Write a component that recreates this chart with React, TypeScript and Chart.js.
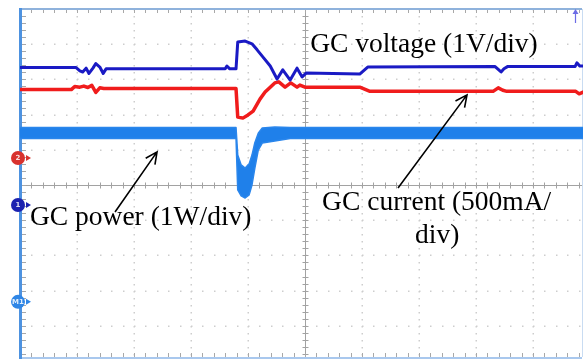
import { useEffect, useRef } from "react";
import { Chart, registerables } from "chart.js";

Chart.register(...registerables);

// Time in divisions (0..10), amplitudes in vertical divisions (-5..5, 0 = screen centre)
const voltageT = [0, 0.98, 1.05, 1.1, 1.16, 1.21, 1.28, 1.33, 1.4, 1.46, 1.51, 3.6, 3.63, 3.68, 3.79, 3.82, 3.95, 4.07, 4.16, 4.26, 4.39, 4.51, 4.61, 4.74, 4.86, 4.95, 5.02, 5.96, 6.1, 8.33, 8.4, 8.44, 8.49, 8.56, 9.74, 9.77, 9.82, 10];
const voltageV = [3.34, 3.34, 3.24, 3.21, 3.32, 3.17, 3.32, 3.45, 3.35, 3.17, 3.3, 3.3, 3.38, 3.3, 3.3, 4.06, 4.09, 4.01, 3.84, 3.64, 3.38, 3.01, 3.27, 2.98, 3.32, 3.07, 3.18, 3.15, 3.35, 3.37, 3.27, 3.21, 3.3, 3.37, 3.37, 3.47, 3.38, 3.38];

const currentT = [0, 0.9, 0.96, 1.05, 1.12, 1.19, 1.26, 1.33, 1.4, 1.47, 3.79, 3.82, 3.91, 4.0, 4.09, 4.16, 4.21, 4.3, 4.39, 4.47, 4.54, 4.65, 4.75, 4.86, 4.91, 5.0, 5.96, 6.14, 8.3, 8.39, 8.47, 8.54, 9.75, 9.81, 9.88, 10];
const currentV = [2.71, 2.71, 2.8, 2.78, 2.81, 2.77, 2.83, 2.63, 2.76, 2.74, 2.74, 1.93, 1.9, 1.99, 2.1, 2.3, 2.44, 2.64, 2.78, 2.9, 2.93, 2.78, 2.9, 2.78, 2.84, 2.78, 2.78, 2.66, 2.66, 2.76, 2.69, 2.66, 2.66, 2.59, 2.64, 2.64];

const powerT = [0, 3.79, 3.82, 3.88, 3.95, 4.02, 4.07, 4.12, 4.18, 4.25, 4.47, 4.74, 10];
const powerHigh = [1.63, 1.63, 0.85, 0.57, 0.48, 0.6, 0.85, 1.2, 1.47, 1.62, 1.65, 1.63, 1.63];
const powerLow = [1.32, 1.32, -0.14, -0.31, -0.37, -0.28, 0, 0.48, 0.99, 1.19, 1.25, 1.32, 1.32];

const labelVoltage = "GC voltage (1V/div)";
const labelPower = "GC power (1W/div)";
const labelCurrent1 = "GC current (500mA/";
const labelCurrent2 = "div)";

const pts = (t: number[], v: number[]) => t.map((x, i) => ({ x, y: v[i] }));

const scopeGrid = {
  id: "scopeGrid",
  beforeDatasetsDraw(chart: any) {
    const { ctx, chartArea, scales } = chart;
    const xs = scales.x;
    const ys = scales.y;
    const { left, top } = chartArea;
    const bottomBorder = 357;
    const rightBorder = 582;
    ctx.save();
    // dotted graticule
    ctx.fillStyle = "#cdcdcd";
    for (let i = 1; i < 10; i++) {
      if (i === 5) continue;
      const px = Math.round(xs.getPixelForValue(i));
      for (let j = 0; j <= 50; j++) {
        const py = Math.round(ys.getPixelForValue(-5 + j * 0.2));
        ctx.fillRect(px - 0.5, py, 1.5, 1.5);
      }
    }
    for (let i = -4; i <= 4; i++) {
      if (i === 0) continue;
      const py = Math.round(ys.getPixelForValue(i));
      for (let j = 0; j <= 50; j++) {
        const px = Math.round(xs.getPixelForValue(j * 0.2));
        ctx.fillRect(px, py - 0.5, 1.5, 1.5);
      }
    }
    // centre cross
    const cx = Math.round(xs.getPixelForValue(5)) + 0.5;
    const cy = Math.round(ys.getPixelForValue(0)) + 0.5;
    ctx.strokeStyle = "#a2a2a2";
    ctx.lineWidth = 1;
    ctx.beginPath();
    ctx.moveTo(cx, top);
    ctx.lineTo(cx, bottomBorder);
    ctx.moveTo(left, cy);
    ctx.lineTo(rightBorder, cy);
    for (let j = 0; j <= 50; j++) {
      const px = Math.round(xs.getPixelForValue(j * 0.2)) + 0.5;
      ctx.moveTo(px, cy - 3);
      ctx.lineTo(px, cy + 3);
      const py = Math.round(ys.getPixelForValue(-5 + j * 0.2)) + 0.5;
      if (py < bottomBorder) {
        ctx.moveTo(cx - 3, py);
        ctx.lineTo(cx + 3, py);
      }
    }
    ctx.stroke();
    // border ticks
    ctx.strokeStyle = "#a8a8a8";
    ctx.beginPath();
    for (let j = 1; j < 50; j++) {
      const px = Math.round(xs.getPixelForValue(j * 0.2)) + 0.5;
      ctx.moveTo(px, top);
      ctx.lineTo(px, top + 4);
      ctx.moveTo(px, bottomBorder);
      ctx.lineTo(px, bottomBorder - 4);
      const py = Math.round(ys.getPixelForValue(-5 + j * 0.2)) + 0.5;
      if (py < bottomBorder) {
        ctx.moveTo(left + 1, py);
        ctx.lineTo(left + 6, py);
      }
    }
    ctx.stroke();
    // borders
    ctx.fillStyle = "#8fb2dc";
    ctx.fillRect(left, top - 1, rightBorder - left, 2);
    ctx.fillStyle = "#a9c8ee";
    ctx.fillRect(left, bottomBorder, rightBorder - left, 2);
    ctx.fillStyle = "#c9dcf2";
    ctx.fillRect(rightBorder, top, 1, bottomBorder - top);
    ctx.fillStyle = "#4d92e0";
    ctx.fillRect(left - 1, top - 1, 3, bottomBorder - top + 3);
    ctx.restore();
  },
};

function arrow(ctx: CanvasRenderingContext2D, x1: number, y1: number, x2: number, y2: number) {
  const a = Math.atan2(y2 - y1, x2 - x1);
  const L = 13;
  const w = 0.45;
  ctx.beginPath();
  ctx.moveTo(x1, y1);
  ctx.lineTo(x2, y2);
  ctx.moveTo(x2 - L * Math.cos(a - w), y2 - L * Math.sin(a - w));
  ctx.lineTo(x2, y2);
  ctx.lineTo(x2 - L * Math.cos(a + w), y2 - L * Math.sin(a + w));
  ctx.stroke();
}

function marker(ctx: CanvasRenderingContext2D, cx: number, cy: number, color: string, label: string) {
  ctx.fillStyle = color;
  ctx.beginPath();
  ctx.arc(cx, cy, 7, 0, Math.PI * 2);
  ctx.fill();
  ctx.beginPath();
  ctx.moveTo(cx + 13, cy);
  ctx.lineTo(cx + 8, cy - 3);
  ctx.lineTo(cx + 8, cy + 3);
  ctx.closePath();
  ctx.fill();
  ctx.fillStyle = "rgba(255,255,255,0.85)";
  ctx.font = "bold 7px 'DejaVu Sans'";
  ctx.textAlign = "center";
  ctx.textBaseline = "middle";
  ctx.fillText(label, cx, cy + 0.5);
}

const overlay = {
  id: "overlay",
  afterDatasetsDraw(chart: any) {
    const { ctx, scales } = chart;
    const X = (v: number) => scales.x.getPixelForValue(v);
    const Y = (v: number) => scales.y.getPixelForValue(v);
    ctx.save();
    ctx.fillStyle = "#000";
    ctx.font = "27.5px 'Liberation Serif'";
    ctx.textAlign = "left";
    ctx.textBaseline = "alphabetic";
    ctx.fillText(labelVoltage, X(5.09), Y(3.78));
    ctx.fillText(labelPower, X(0.175), Y(-1.136));
    ctx.fillText(labelCurrent1, X(5.3), Y(-0.71));
    ctx.fillText(labelCurrent2, X(6.93), Y(-1.65));
    ctx.strokeStyle = "#000";
    ctx.lineWidth = 1.6;
    arrow(ctx, X(1.667), Y(-0.767), X(2.404), Y(0.94));
    arrow(ctx, X(6.632), Y(-0.085), X(7.842), Y(2.56));
    marker(ctx, 18, Y(0.767), "#d8322e", "2");
    marker(ctx, 18, Y(-0.568), "#1c22b0", "1");
    marker(ctx, 18, Y(-3.32), "#2f86e6", "M1");
    // trigger position marker
    ctx.strokeStyle = "#6c6ce6";
    ctx.fillStyle = "#6c6ce6";
    ctx.lineWidth = 1.2;
    ctx.beginPath();
    ctx.moveTo(575.5, 23);
    ctx.lineTo(575.5, 12);
    ctx.stroke();
    ctx.beginPath();
    ctx.moveTo(575.5, 9);
    ctx.lineTo(572.5, 14);
    ctx.lineTo(578.5, 14);
    ctx.closePath();
    ctx.fill();
    ctx.restore();
  },
};

export default function App() {
  const ref = useRef<HTMLCanvasElement>(null);
  useEffect(() => {
    const canvas = ref.current;
    if (!canvas) return;
    const chart = new Chart(canvas, {
      type: "line",
      data: {
        datasets: [
          {
            data: pts(voltageT, voltageV),
            borderColor: "#1a1ac4",
            borderWidth: 3,
            pointRadius: 0,
            tension: 0,
            fill: false,
          },
          {
            data: pts(currentT, currentV),
            borderColor: "#f01c1c",
            borderWidth: 3.5,
            pointRadius: 0,
            tension: 0,
            fill: false,
          },
          {
            data: pts(powerT, powerHigh),
            borderColor: "#2a86ec",
            borderWidth: 1.5,
            pointRadius: 0,
            tension: 0,
            fill: false,
          },
          {
            data: pts(powerT, powerLow),
            borderColor: "#2a86ec",
            backgroundColor: "#1f80ea",
            borderWidth: 1.5,
            pointRadius: 0,
            tension: 0,
            fill: "-1",
          },
        ],
      },
      options: {
        responsive: false,
        animation: false,
        devicePixelRatio: 1,
        layout: { padding: { left: 20, top: 9, right: 10, bottom: 9 } },
        scales: {
          x: { type: "linear", min: 0, max: 10, display: false },
          y: { type: "linear", min: -5, max: 5, display: false },
        },
        plugins: {
          legend: { display: false },
          tooltip: { enabled: false },
        },
        elements: { line: { borderJoinStyle: "round", borderCapStyle: "round" } },
      },
      plugins: [scopeGrid, overlay],
    } as any);
    return () => chart.destroy();
  }, []);
  return (
    <div
      style={{
        position: "fixed",
        left: 0,
        top: 0,
        width: 583,
        height: 359,
        overflow: "hidden",
        background: "#fff",
      }}
    >
      <canvas ref={ref} width={600} height={370} style={{ display: "block", width: 600, height: 370 }} />
    </div>
  );
}
